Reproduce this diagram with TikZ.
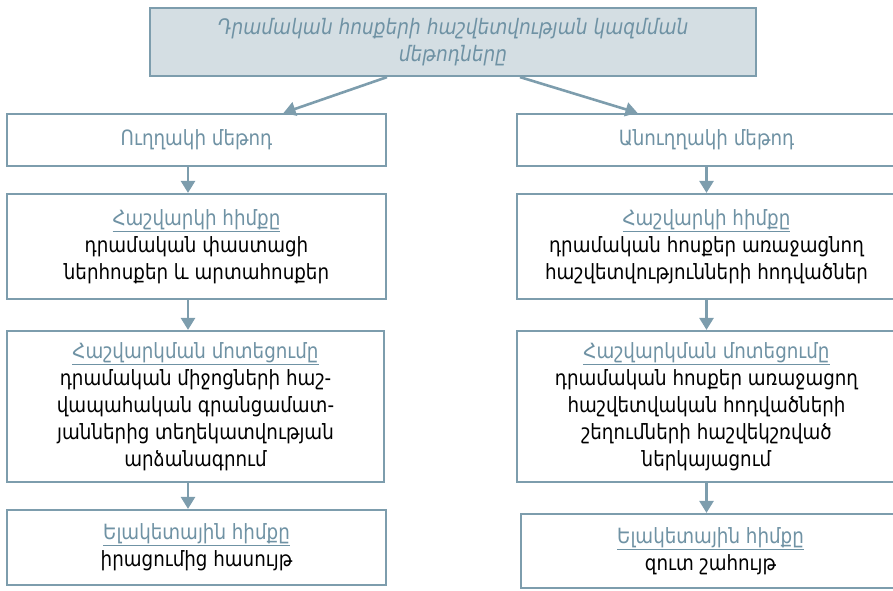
\documentclass[tikz,border=0pt]{standalone}
\usepackage{fontspec}
\setmainfont[FakeStretch=0.87]{DejaVu Sans}
\usetikzlibrary{arrows.meta}
\definecolor{bord}{HTML}{7D9DAD}
\definecolor{headc}{HTML}{6F92A4}
\definecolor{titlefill}{HTML}{D4DEE3}
\begin{document}
\begin{tikzpicture}[x=1pt,y=-1pt]
\useasboundingbox (0,0) rectangle (893,590);
\tikzset{
  box/.style={draw=bord, line width=2.2pt, fill=white, align=center, inner sep=0pt,
    font=\fontsize{21}{27}\selectfont},
  arr/.style={draw=bord, line width=2.6pt, -{Triangle[length=12pt,width=14pt]}},
}
\newcommand{\hd}[1]{\textcolor{headc}{\underline{#1}}}
\node[box, fill=titlefill, minimum width=606pt, minimum height=68pt, text=headc,
  font=\fontsize{21.3}{27}\selectfont\itshape] (title) at (453,42)
  {Դրամական հոսքերի հաշվետվության կազմման\\մեթոդները};
\node[box, minimum width=379pt, minimum height=52pt, text=headc] (L1) at (196.5,140) {Ուղղակի մեթոդ};
\node[box, minimum width=379pt, minimum height=105pt] (L2) at (196.5,246.5)
  {\hd{Հաշվարկի հիմքը}\\դրամական փաստացի\\ներհոսքեր և արտահոսքեր};
\node[box, minimum width=377pt, minimum height=151pt] (L3) at (195.5,406.5)
  {\hd{Հաշվարկման մոտեցումը}\\դրամական միջոցների հաշ-\\վապահական գրանցամատ-\\յաններից տեղեկատվության\\արձանագրում};
\node[box, minimum width=379pt, minimum height=75pt] (L4) at (196.5,547.5)
  {\hd{Ելակետային հիմքը}\\իրացումից հասույթ};
\node[box, minimum width=379pt, minimum height=52pt, text=headc] (R1) at (706.5,140) {Անուղղակի մեթոդ};
\node[box, minimum width=379pt, minimum height=105pt] (R2) at (706.5,246.5)
  {\hd{Հաշվարկի հիմքը}\\դրամական հոսքեր առաջացնող\\հաշվետվությունների հոդվածներ};
\node[box, minimum width=379pt, minimum height=151pt] (R3) at (706.5,406.5)
  {\hd{Հաշվարկման մոտեցումը}\\դրամական հոսքեր առաջացող\\հաշվետվական հոդվածների\\շեղումների հաշվեկշռված\\ներկայացում};
\node[box, minimum width=379pt, minimum height=74pt] (R4) at (710.5,551)
  {\hd{Ելակետային հիմքը}\\զուտ շահույթ};
\draw[arr] ([xshift=-66pt]title.south) -- ([xshift=87pt]L1.north);
\draw[arr] ([xshift=67pt]title.south) -- ([xshift=-69pt]R1.north);
\draw[arr] ([xshift=-8.5pt]L1.south) -- ([xshift=-8.5pt]L2.north);
\draw[arr] ([xshift=-8.5pt]L2.south) -- ([xshift=-7.5pt]L3.north);
\draw[arr] ([xshift=-7.5pt]L3.south) -- ([xshift=-8.5pt]L4.north);
\draw[arr] (R1.south) -- (R2.north);
\draw[arr] (R2.south) -- (R3.north);
\draw[arr] (R3.south) -- (R3.south |- R4.north);
\end{tikzpicture}
\end{document}
